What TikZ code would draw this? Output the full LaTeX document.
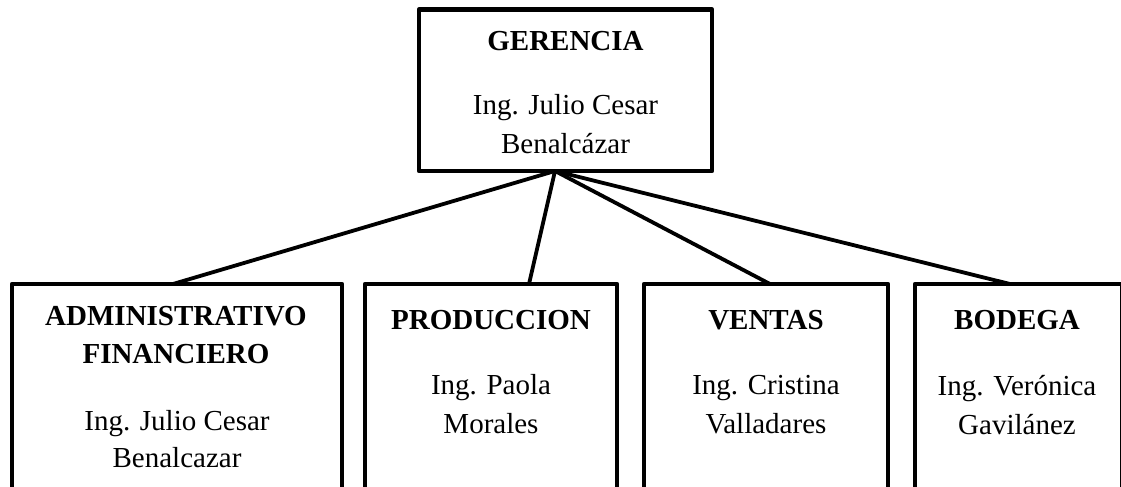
\documentclass[tikz,border=0pt]{standalone}
\usepackage{fontspec}
\setmainfont{Liberation Serif}
\usetikzlibrary{calc}
\begin{document}
\begin{tikzpicture}[x=0.5pt,y=-0.5pt,
  box/.style={draw=black, line width=2.3pt, line join=round, rectangle, inner sep=0pt, outer sep=0pt},
  link/.style={draw=black, line width=1.9pt},
  ttl/.style={anchor=base, inner sep=0pt, font=\fontsize{14.5}{17}\selectfont\bfseries},
  nm/.style={anchor=base, inner sep=0pt, font=\fontsize{14.5}{17}\selectfont}]
\useasboundingbox (0,0) rectangle (1121,487);
\clip (0,0) rectangle (1121,487);
% boxes
\node[box, minimum width=146.5pt, minimum height=80.75pt] (ger) at (565.5,90.25) {};
\node[box, minimum width=165pt, minimum height=128pt] (adm) at (177,412) {};
\node[box, minimum width=126pt, minimum height=128pt] (pro) at (491,412) {};
\node[box, minimum width=122pt, minimum height=128pt] (ven) at (766,412) {};
\node[box, minimum width=103.5pt, minimum height=128pt] (bod) at (1018.5,412) {};
% connectors
\coordinate (hub) at ($(ger.south)+(-10.5,0)$);
\draw[link] (hub) -- ($(adm.north)+(-4,0)$);
\draw[link] (hub) -- ($(pro.north)+(38,0)$);
\draw[link] (hub) -- ($(ven.north)+(4,0)$);
\draw[link] (hub) -- ($(bod.north)+(-8.5,0)$);
% texts
\node[ttl] (gert) at (565.5,50) {GERENCIA};
\node[nm] (gern1) at (565.5,114) {Ing. Julio Cesar};
\node[nm] (gern2) at (565.5,153) {Benalcázar};
\node[ttl] (admt1) at (176,325) {ADMINISTRATIVO};
\node[ttl] (admt2) at (176,363) {FINANCIERO};
\node[nm] (admn1) at (177,430) {Ing. Julio Cesar};
\node[nm] (admn2) at (177,467) {Benalcazar};
\node[ttl] (prot) at (491,329) {PRODUCCION};
\node[nm] (pron1) at (491,394) {Ing. Paola};
\node[nm] (pron2) at (491,433) {Morales};
\node[ttl] (vent) at (766,329) {VENTAS};
\node[nm] (venn1) at (766,394) {Ing. Cristina};
\node[nm] (venn2) at (766,433) {Valladares};
\node[ttl] (bodt) at (1017,329) {BODEGA};
\node[nm] (bodn1) at (1017,395) {Ing. Verónica};
\node[nm] (bodn2) at (1017,434) {Gavilánez};
\end{tikzpicture}
\end{document}
